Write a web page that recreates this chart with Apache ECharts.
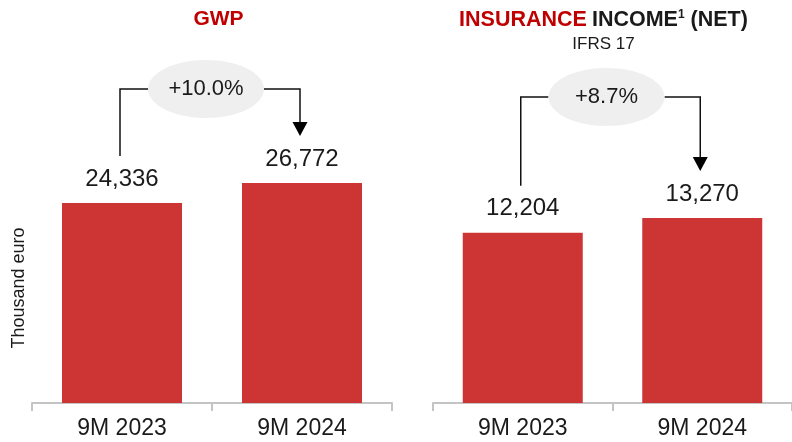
<!DOCTYPE html>
<html><head><meta charset="utf-8">
<script src="https://cdn.jsdelivr.net/npm/echarts@6/dist/echarts.min.js"></script>
<style>html,body{margin:0;padding:0;background:#fff}#c{width:792px;height:442px}</style>
</head><body><div id="c"></div>
<script>
const categories = ['9M 2023', '9M 2024'];
const gwpValues = [24336, 26772];
const incomeValues = [12204, 13270];
const gwpChange = '+10.0%';
const incomeChange = '+8.7%';
const axisTitle = 'Thousand euro';

const FONT = '"Liberation Sans", Arial, sans-serif';
const RED_BAR = '#cd3535';
const RED_TXT = '#c00000';
const TXT = '#1a1a1a';

const chart = echarts.init(document.getElementById('c'), null, {renderer: 'canvas'});
const fmt = v => Number(v).toLocaleString('en-US');

function xAxis(gi) {
  return {
    type: 'category', gridIndex: gi, data: categories,
    axisLine: {lineStyle: {color: '#c4c4c4', width: 2}},
    axisTick: {show: true, length: 8, lineStyle: {color: '#c4c4c4', width: 2}},
    axisLabel: {color: TXT, fontSize: 23, fontFamily: FONT, margin: 14}
  };
}
function yAxis(gi, max) {
  return {type: 'value', gridIndex: gi, min: 0, max: max, show: false, splitLine: {show: false}};
}
function barSeries(i, vals) {
  return {
    type: 'bar', xAxisIndex: i, yAxisIndex: i, data: vals, barWidth: 120,
    itemStyle: {color: RED_BAR}, silent: true, animation: false,
    label: {show: true, position: 'top', distance: 12, color: TXT, fontSize: 24,
      fontFamily: FONT, formatter: p => fmt(p.value)}
  };
}

chart.setOption({
  animation: false,
  grid: [
    {left: 32, width: 360, top: 156.5, bottom: 39},
    {left: 433, width: 360, top: 124, bottom: 39}
  ],
  xAxis: [xAxis(0), xAxis(1)],
  yAxis: [yAxis(0, 30000), yAxis(1, 20000)],
  series: [barSeries(0, gwpValues), barSeries(1, incomeValues)],
  title: [
    {text: 'GWP', left: 213.5, top: 4, textAlign: 'center',
      textStyle: {color: RED_TXT, fontSize: 21, fontWeight: 'bold', fontFamily: FONT}},
    {text: '{r|INSURANCE} {k|INCOME}{s|1}{k| (NET)}', left: 598.5, top: 4, textAlign: 'center',
      textStyle: {fontFamily: FONT, rich: {
        r: {color: RED_TXT, fontSize: 21.5, fontWeight: 'bold', fontFamily: FONT},
        k: {color: TXT, fontSize: 21.5, fontWeight: 'bold', fontFamily: FONT},
        s: {color: TXT, fontSize: 12, fontWeight: 'bold', fontFamily: FONT, verticalAlign: 'top', padding: [0, 0, 8, 0]}
      }}},
    {text: 'IFRS 17', left: 598.5, top: 31, textAlign: 'center',
      textStyle: {color: TXT, fontSize: 17, fontWeight: 'normal', fontFamily: FONT}}
  ]
});

function anno(gi, vals, change, ellY) {
  const p0 = chart.convertToPixel({gridIndex: gi}, [0, vals[0]]);
  const p1 = chart.convertToPixel({gridIndex: gi}, [1, vals[1]]);
  const x0 = p0[0] - 2, x1 = p1[0] - 2;
  const cx = (p0[0] + p1[0]) / 2 - 6;
  const rx = 58, ry = 29;
  const lineBottom = p0[1] - 47;
  const tip = p1[1] - 47;
  const ls = {stroke: '#111', lineWidth: 1.5, fill: null};
  return [
    {type: 'polyline', shape: {points: [[x0, lineBottom], [x0, ellY], [cx - rx, ellY]]}, style: ls, silent: true},
    {type: 'polyline', shape: {points: [[cx + rx, ellY], [x1, ellY], [x1, tip - 13]]}, style: ls, silent: true},
    {type: 'polygon', shape: {points: [[x1 - 7.5, tip - 14], [x1 + 7.5, tip - 14], [x1, tip]]}, style: {fill: '#000'}, silent: true},
    {type: 'ellipse', shape: {cx: cx, cy: ellY, rx: rx, ry: ry}, style: {fill: '#efefef'}, silent: true},
    {type: 'text', x: cx, y: ellY, style: {text: change, fill: TXT, fontSize: 22, fontFamily: FONT, align: 'center', verticalAlign: 'middle'}, silent: true}
  ];
}

chart.setOption({
  graphic: [
    ...anno(0, gwpValues, gwpChange, 89),
    ...anno(1, incomeValues, incomeChange, 97),
    {type: 'text', x: 19, y: 288, rotation: Math.PI / 2,
      style: {text: axisTitle, fill: TXT, fontSize: 18, fontFamily: FONT, align: 'center', verticalAlign: 'middle'}, silent: true}
  ]
});
</script></body></html>
